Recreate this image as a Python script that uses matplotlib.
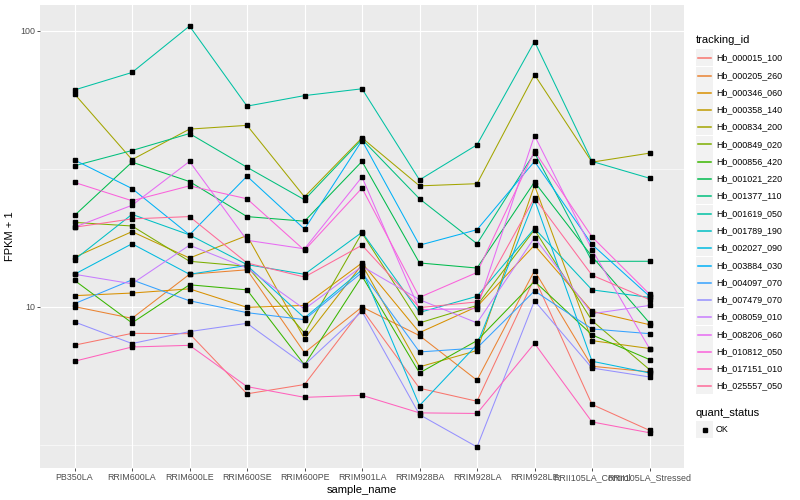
import math
import numpy as np
import matplotlib
matplotlib.use("Agg")
import matplotlib.pyplot as plt
from matplotlib.patches import Rectangle
from matplotlib.lines import Line2D

plt.rcParams['font.family'] = ['Liberation Sans', 'DejaVu Sans']

samples = ["PB350LA", "RRIM600LA", "RRIM600LE", "RRIM600SE", "RRIM600PE",
           "RRIM901LA", "RRIM928BA", "RRIM928LA", "RRIM928LE",
           "RRII105LA_Control", "RRII105LA_Stressed"]

tracking_ids = ["Hb_000015_100", "Hb_000205_260", "Hb_000346_060", "Hb_000358_140",
                "Hb_000834_200", "Hb_000849_020", "Hb_000856_420", "Hb_001021_220",
                "Hb_001377_110", "Hb_001619_050", "Hb_001789_190", "Hb_002027_090",
                "Hb_003884_030", "Hb_004097_070", "Hb_007479_070", "Hb_008059_010",
                "Hb_008206_060", "Hb_010812_050", "Hb_017151_010", "Hb_025557_050"]

# FPKM + 1, one list per gene, in sample order
hb_000015_100 = [7.25, 8.0, 7.98, 4.83, 5.22, 9.79, 5.06, 4.54, 12.7, 4.42, 3.56]
hb_000205_260 = [10.0, 9.07, 13.1, 13.6, 6.81, 9.97, 7.85, 5.41, 13.5, 6.08, 5.8]
hb_000346_060 = [10.96, 11.2, 11.6, 9.94, 10.1, 14.4, 8.05, 10.0, 16.7, 9.62, 8.6]
hb_000358_140 = [15.1, 18.7, 15.0, 18.1, 7.65, 14.2, 6.05, 6.93, 27.5, 7.53, 7.05]
hb_000834_200 = [59.0, 34.1, 44.0, 45.4, 25.0, 40.9, 27.4, 27.9, 69.3, 33.4, 36.0]
hb_000849_020 = [20.2, 19.6, 14.6, 14.0, 8.02, 18.5, 8.73, 10.1, 19.0, 8.9, 5.91]
hb_000856_420 = [12.45, 8.73, 12.0, 11.5, 6.15, 12.9, 5.75, 7.53, 12.35, 7.9, 6.43]
hb_001021_220 = [21.4, 33.4, 28.4, 21.2, 20.4, 33.6, 14.4, 13.8, 28.3, 15.2, 8.73]
hb_001377_110 = [32.4, 36.8, 42.4, 32.0, 24.4, 40.4, 24.6, 16.9, 36.1, 14.6, 14.6]
hb_001619_050 = [61.0, 70.6, 104.0, 53.3, 58.2, 61.6, 28.8, 38.6, 91.4, 33.6, 29.2]
hb_001789_190 = [14.8, 21.6, 18.2, 14.2, 13.1, 18.6, 9.53, 10.9, 19.2, 11.5, 10.8]
hb_002027_090 = [13.1, 16.9, 13.1, 14.1, 9.1, 13.6, 4.38, 7.28, 24.4, 6.34, 5.75]
hb_003884_030 = [34.0, 26.8, 18.2, 29.7, 19.1, 40.0, 16.7, 19.0, 33.6, 16.8, 10.9]
hb_004097_070 = [10.25, 12.5, 10.5, 9.51, 8.97, 13.3, 6.85, 7.08, 11.4, 8.3, 7.98]
hb_007479_070 = [8.8, 7.35, 8.12, 8.7, 6.15, 9.61, 4.06, 3.10, 10.5, 5.99, 5.56]
hb_008059_010 = [13.1, 12.1, 16.7, 13.8, 9.8, 14.0, 10.6, 8.73, 17.8, 9.43, 10.1]
hb_008206_060 = [19.4, 23.3, 33.6, 17.4, 16.2, 29.5, 9.75, 9.83, 41.7, 16.1, 7.05]
hb_010812_050 = [28.2, 24.2, 27.4, 24.6, 16.0, 26.9, 10.8, 13.3, 36.6, 17.9, 11.1]
hb_017151_010 = [6.34, 7.14, 7.24, 5.13, 4.69, 4.77, 4.12, 4.10, 7.36, 3.82, 3.49]
hb_025557_050 = [19.4, 20.8, 21.2, 14.4, 12.8, 16.7, 9.92, 10.4, 24.8, 13.0, 10.6]

series = [hb_000015_100, hb_000205_260, hb_000346_060, hb_000358_140, hb_000834_200,
          hb_000849_020, hb_000856_420, hb_001021_220, hb_001377_110, hb_001619_050,
          hb_001789_190, hb_002027_090, hb_003884_030, hb_004097_070, hb_007479_070,
          hb_008059_010, hb_008206_060, hb_010812_050, hb_017151_010, hb_025557_050]


def hcl_hex(h, c=100.0, l=65.0):
    # polar LUV -> sRGB, like ggplot's hue palette
    hr = math.radians(h)
    u = c * math.cos(hr)
    v = c * math.sin(hr)
    Y = ((l + 16) / 116) ** 3
    Xn, Yn, Zn = 0.95047, 1.0, 1.08883
    un = 4 * Xn / (Xn + 15 * Yn + 3 * Zn)
    vn = 9 * Yn / (Xn + 15 * Yn + 3 * Zn)
    up = u / (13 * l) + un
    vp = v / (13 * l) + vn
    X = Y * 9 * up / (4 * vp)
    Z = Y * (12 - 3 * up - 20 * vp) / (4 * vp)
    rgb = [3.2404542 * X - 1.5371385 * Y - 0.4985314 * Z,
           -0.9692660 * X + 1.8760108 * Y + 0.0415560 * Z,
           0.0556434 * X - 0.2040259 * Y + 1.0572252 * Z]
    out = []
    for ch in rgb:
        ch = 12.92 * ch if ch <= 0.0031308 else 1.055 * ch ** (1 / 2.4) - 0.055
        out.append(min(max(ch, 0.0), 1.0))
    return tuple(out)


n = len(tracking_ids)
colors = [hcl_hex(15 + i * 360.0 / n) for i in range(n)]

fig = plt.figure(figsize=(8, 5), dpi=100)
ax = fig.add_axes([40 / 800, 1 - 468 / 500, 644 / 800, 463 / 500])
ax.set_facecolor('#EBEBEB')
for s in ax.spines.values():
    s.set_visible(False)

x = np.arange(1, len(samples) + 1)
for vals, col in zip(series, colors):
    ax.plot(x, vals, color=col, lw=0.75, zorder=3)
for vals in series:
    ax.plot(x, vals, ls='none', marker='s', ms=2.6, color='black', zorder=4)

ax.set_yscale('log')
ax.set_yticks([10, 100])
ax.set_yticklabels(["10", "100"])
ax.set_yticks([10 ** 0.5, 10 ** 1.5], minor=True)
ax.yaxis.set_minor_formatter(matplotlib.ticker.NullFormatter())
ax.set_xticks(x)
ax.set_xticklabels(samples)

# limits after the ticks, so the ticks do not widen them
allv = np.concatenate([np.array(s) for s in series])
lo, hi = np.log10(allv.min()), np.log10(allv.max())
pad = 0.05 * (hi - lo)
ax.set_ylim(10 ** (lo - pad), 10 ** (hi + pad))
ax.set_xlim(0.4, len(samples) + 0.6)

ax.tick_params(axis='both', which='major', length=2.0, width=0.6, color='#333333',
               labelsize=6.4, labelcolor='#4D4D4D', pad=1.5)
ax.tick_params(axis='y', which='minor', length=0)
ax.grid(True, which='major', color='white', lw=0.8, zorder=0)
ax.grid(True, which='minor', axis='y', color='white', lw=0.4, zorder=0)
ax.set_axisbelow(True)

ax.set_xlabel("sample_name", fontsize=8, labelpad=2)
ax.set_ylabel("FPKM + 1", fontsize=8, labelpad=4)


# legend, ggplot style
def fx(px):
    return px / 800


def fy(py):
    return 1 - py / 500


fig.text(fx(696), fy(40), "tracking_id", fontsize=8, va='center', ha='left')
key_h = 17.27
for i, (name, col) in enumerate(zip(tracking_ids, colors)):
    yc = round(57.3 + i * key_h) + 0.5
    fig.add_artist(Rectangle((fx(696), fy(yc + 8.4)), 17 / 800, 16.8 / 500,
                             transform=fig.transFigure, facecolor='#F2F2F2',
                             edgecolor='none', zorder=1))
    fig.add_artist(Line2D([fx(698), fx(711)], [fy(yc), fy(yc)],
                          transform=fig.transFigure, color=col, lw=1.1, zorder=5))
    fig.text(fx(716), fy(yc), name, fontsize=6.4, va='center', ha='left')

fig.text(fx(696), fy(413), "quant_status", fontsize=8, va='center', ha='left')
yc = 429.5
fig.add_artist(Rectangle((fx(696), fy(yc + 8.4)), 17 / 800, 16.8 / 500,
                         transform=fig.transFigure, facecolor='#F2F2F2',
                         edgecolor='none', zorder=1))
fig.add_artist(Line2D([fx(704.5)], [fy(yc)], transform=fig.transFigure,
                      marker='s', ms=2.6, color='black', ls='none', zorder=5))
fig.text(fx(716), fy(yc), "OK", fontsize=6.4, va='center', ha='left')

fig.savefig("out.png", dpi=100)
